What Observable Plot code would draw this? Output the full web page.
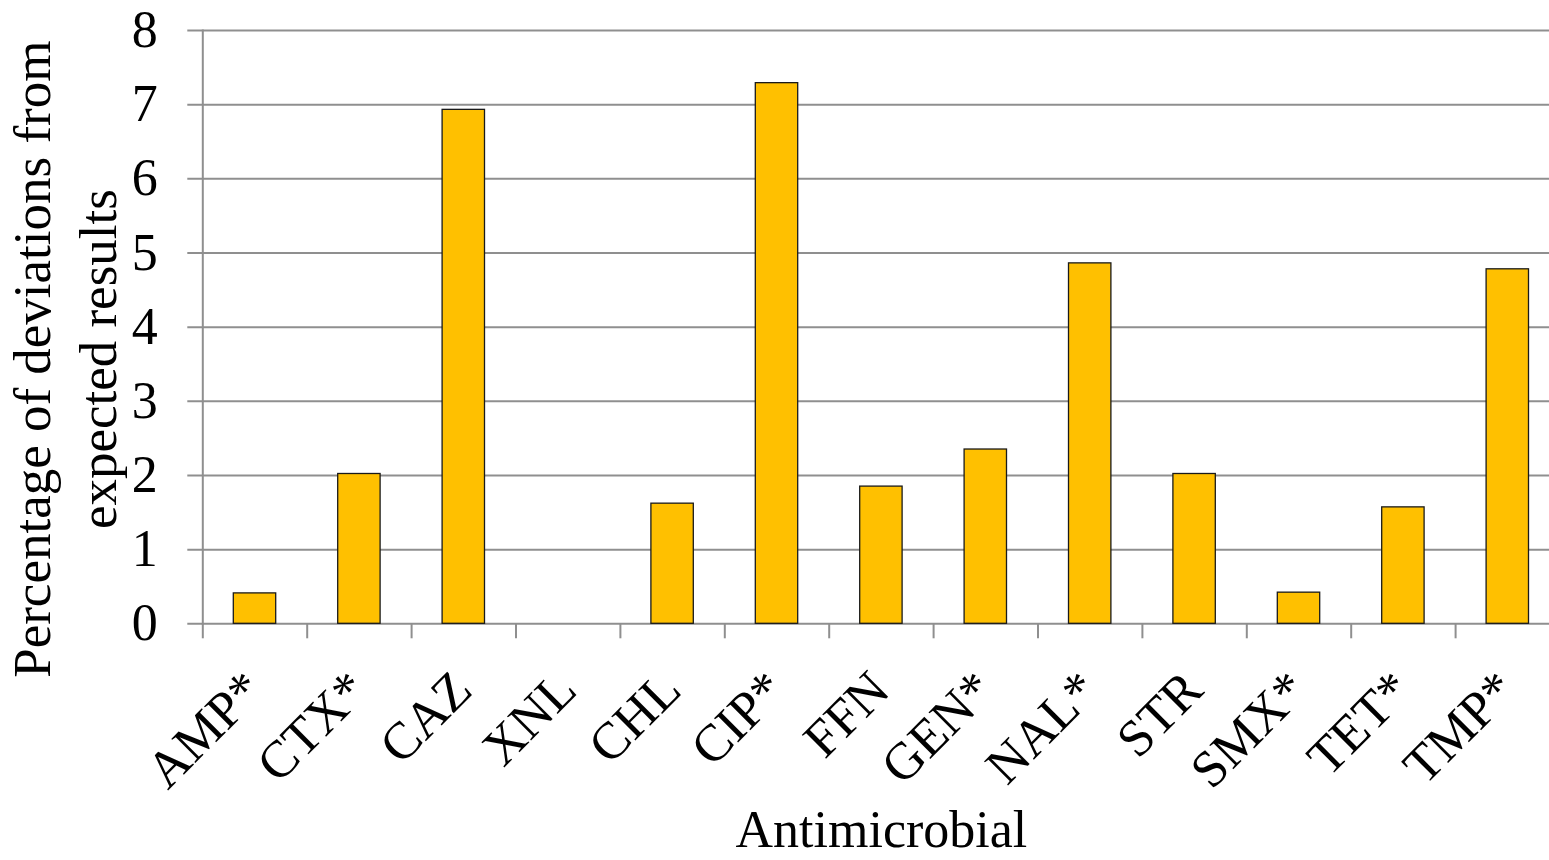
<!DOCTYPE html>
<html>
<head>
<meta charset="utf-8">
<script src="https://cdn.jsdelivr.net/npm/d3@7"></script>
<script src="https://cdn.jsdelivr.net/npm/@observablehq/plot@0.6"></script>
<style>
  html, body { margin: 0; padding: 0; background: #fff; overflow: hidden; }
  #chart svg { display: block; }
</style>
</head>
<body>
<div id="chart"></div>
<script>
// Antimicrobials tested and the share of deviating results for each
const antimicrobials = ["AMP*", "CTX*", "CAZ", "XNL", "CHL", "CIP*", "FFN", "GEN*", "NAL*", "STR", "SMX*", "TET*", "TMP*"];
const deviationPct = [0.41, 2.02, 6.93, 0, 1.62, 7.29, 1.85, 2.35, 4.86, 2.02, 0.42, 1.57, 4.78];
const yTicks = [0, 1, 2, 3, 4, 5, 6, 7, 8];
const yTitle = "Percentage of deviations from\nexpected results";
const xTitle = "Antimicrobial";

const rows = antimicrobials.map((name, i) => ({name, value: deviationPct[i]}));

const W = 1549, H = 860;
const mL = 202.3, mT = 30, mB = 236.7, mR = -10.5;
const step = (W - mR - mL) / antimicrobials.length;
const barWidth = 42.4;
const inset = (step - barWidth) / 2;
const gridColor = "#8f8f8f";
const serif = "'Liberation Serif', 'Times New Roman', Times, serif";

const chart = Plot.plot({
  width: W,
  height: H,
  marginLeft: mL,
  marginRight: mR,
  marginTop: mT,
  marginBottom: mB,
  style: {fontFamily: serif, color: "#000", background: "#fff", overflow: "visible"},
  x: {type: "band", domain: antimicrobials, padding: 0, round: false, axis: null},
  y: {domain: [0, 8], axis: null},
  marks: [
    // horizontal gridlines with small outward ticks on the left
    Plot.ruleY(yTicks, {stroke: gridColor, strokeWidth: 2, insetLeft: -15}),
    // vertical axis line
    Plot.frame({anchor: "left", stroke: gridColor, strokeWidth: 2}),
    // category boundary ticks below the baseline
    Plot.ruleX(antimicrobials, {x: d => d, y1: 0, y2: 0, dx: -step / 2, insetBottom: -15, stroke: gridColor, strokeWidth: 2}),
    Plot.barY(rows, {x: "name", y: "value", fill: "#FFC000", stroke: "#1a1a1a", strokeWidth: 1.3, insetLeft: inset, insetRight: inset}),
    Plot.axisY({ticks: yTicks, tickSize: 0, tickPadding: 45, fontSize: 52, label: null, fill: "#000"}),
    // rotated category labels
    Plot.text(antimicrobials, {x: d => d, frameAnchor: "bottom", dy: 57, dx: -1, rotate: -45, textAnchor: "end", lineAnchor: "middle", fontSize: 52, fill: "#000"}),
    // axis titles
    Plot.text([yTitle], {frameAnchor: "left", dx: -141, dy: 32, rotate: -90, textAnchor: "middle", lineAnchor: "middle", lineHeight: 1.25, fontSize: 53, fill: "#000"}),
    Plot.text([xTitle], {frameAnchor: "bottom", dy: 223, textAnchor: "middle", lineAnchor: "bottom", fontSize: 52, fill: "#000"})
  ]
});

document.getElementById("chart").append(chart);
</script>
</body>
</html>
